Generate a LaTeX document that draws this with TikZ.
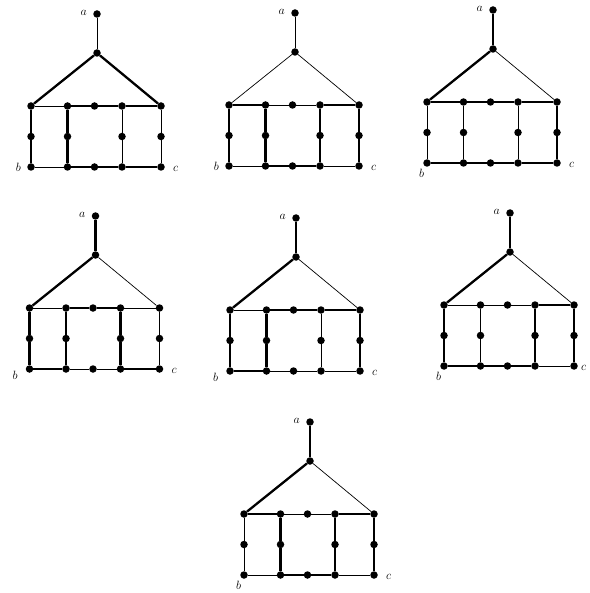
\documentclass[tikz,border=0pt]{standalone}
\usetikzlibrary{positioning}
\begin{document}
\begin{tikzpicture}[x=1pt, y=-1pt,
  dot/.style={circle, fill=black, inner sep=0pt, minimum size=7.5pt},
  edge/.style={line width=0.7pt},
  hl/.style={line width=2.3pt},
  lab/.style={font=\fontsize{12}{14}\selectfont, inner sep=0pt}]
\useasboundingbox (0,0) rectangle (589,593);
% #1 name, #2/#3 top left corner, #4 place of b, #5 place of c, #6 thick edges
\newcommand{\housegraph}[6]{
  \begin{scope}[shift={(#2,#3)}]
  \node[dot] (#1-a) at (66,-92) {};
  \node[dot] (#1-p) at (66,-53) {};
  \foreach \k/\x in {0/0,1/36.5,2/63.5,3/91,4/130} {
    \node[dot] (#1-t\k) at (\x,0) {};
    \node[dot] (#1-l\k) at (\x,61) {};}
  \foreach \k/\x in {0/0,1/36.5,3/91,4/130}
    \node[dot] (#1-m\k) at (\x,30.5) {};
  \end{scope}
  \foreach \u/\v in {a/p,p/t0,p/t4,t0/t1,t1/t2,t2/t3,t3/t4,l0/l1,l1/l2,l2/l3,l3/l4,
    t0/m0,m0/l0,t1/m1,m1/l1,t3/m3,m3/l3,t4/m4,m4/l4}
    \draw[edge] (#1-\u) -- (#1-\v);
  \foreach \u/\v in {#6} \draw[hl] (#1-\u) -- (#1-\v);
  \node[lab, left=6pt of #1-a, yshift=1pt] (#1-la) {$a$};
  \node[lab, #4 of #1-l0] (#1-lb) {$b$};
  \node[lab, #5 of #1-l4, yshift=-2pt] (#1-lc) {$c$};}
\housegraph{g1}{31}{106}{left=6pt}{right=8pt}
  {p/t0,p/t4,t0/m0,m0/l0,t1/m1,m1/l1,t1/t2,t2/t3,t3/t4,l1/l2,l2/l3,l3/l4}
\housegraph{g2}{229}{105}{left=6pt}{right=8pt}
  {t0/t1,t3/t4,t0/m0,m0/l0,t1/m1,m1/l1,t3/m3,m3/l3,t4/m4,m4/l4,l1/l2,l2/l3}
\housegraph{g3}{427}{102}{below left=3pt and 0pt}{right=8pt}
  {a/p,p/t0,t0/t1,t1/t2,t2/t3,t3/t4,t4/m4,m4/l4,l0/l1,l1/l2,l2/l3,l3/l4}
\housegraph{g4}{29.5}{308}{below left=-1pt and 9pt}{right=8pt}
  {a/p,p/t0,t0/m0,m0/l0,l0/l1,l1/m1,m1/t1,t1/t2,t2/t3,t3/m3,m3/l3,l3/l4}
\housegraph{g5}{230}{310}{below left=-1pt and 9pt}{right=8pt}
  {a/p,p/t0,t0/m0,m0/l0,l0/l1,l1/m1,m1/t1,t1/t2,t2/t3,t3/t4,t4/m4,m4/l4}
\housegraph{g6}{444}{305}{below left=3pt and 0pt}{right=3pt}
  {a/p,p/t0,t0/m0,m0/l0,l0/l1,l1/l2,l2/l3,l3/m3,m3/t3,t3/t4,t4/m4,m4/l4}
\housegraph{g7}{244}{514}{below left=3pt and 0pt}{right=8pt}
  {a/p,p/t0,t0/t1,t1/m1,m1/l1,l1/l2,l2/l3,l3/m3,m3/t3,t3/t4,t4/m4,m4/l4}
\end{tikzpicture}
\end{document}
